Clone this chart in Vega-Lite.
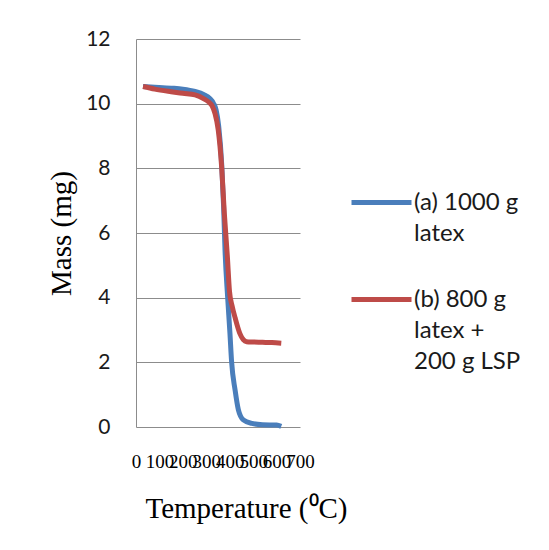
{
  "$schema": "https://vega.github.io/schema/vega-lite/v6.json",
  "width": 164,
  "height": 388,
  "autosize": {"type": "none"},
  "padding": {"left": 136, "top": 39, "right": 249, "bottom": 123},
  "background": "white",
  "config": {
    "view": {"stroke": null},
    "style": {"guide-label": {"lineHeight": 31}}
  },
  "data": {
    "values": [
      {"T": 30, "mass": 10.53, "series": "(a) 1000 g latex"},
      {"T": 80, "mass": 10.51, "series": "(a) 1000 g latex"},
      {"T": 150, "mass": 10.48, "series": "(a) 1000 g latex"},
      {"T": 200, "mass": 10.45, "series": "(a) 1000 g latex"},
      {"T": 252, "mass": 10.38, "series": "(a) 1000 g latex"},
      {"T": 290, "mass": 10.28, "series": "(a) 1000 g latex"},
      {"T": 315, "mass": 10.16, "series": "(a) 1000 g latex"},
      {"T": 330, "mass": 10.02, "series": "(a) 1000 g latex"},
      {"T": 342, "mass": 9.8, "series": "(a) 1000 g latex"},
      {"T": 353, "mass": 9.3, "series": "(a) 1000 g latex"},
      {"T": 366, "mass": 8.1, "series": "(a) 1000 g latex"},
      {"T": 374, "mass": 6.8, "series": "(a) 1000 g latex"},
      {"T": 380, "mass": 5.47, "series": "(a) 1000 g latex"},
      {"T": 391, "mass": 4.03, "series": "(a) 1000 g latex"},
      {"T": 401, "mass": 2.9, "series": "(a) 1000 g latex"},
      {"T": 408, "mass": 2.02, "series": "(a) 1000 g latex"},
      {"T": 423, "mass": 1.14, "series": "(a) 1000 g latex"},
      {"T": 437, "mass": 0.53, "series": "(a) 1000 g latex"},
      {"T": 458, "mass": 0.22, "series": "(a) 1000 g latex"},
      {"T": 494, "mass": 0.11, "series": "(a) 1000 g latex"},
      {"T": 540, "mass": 0.07, "series": "(a) 1000 g latex"},
      {"T": 600, "mass": 0.06, "series": "(a) 1000 g latex"},
      {"T": 620, "mass": 0.02, "series": "(a) 1000 g latex"},
      {"T": 30, "mass": 10.53, "series": "(b) 800 g latex + 200 g LSP"},
      {"T": 80, "mass": 10.45, "series": "(b) 800 g latex + 200 g LSP"},
      {"T": 150, "mass": 10.37, "series": "(b) 800 g latex + 200 g LSP"},
      {"T": 200, "mass": 10.32, "series": "(b) 800 g latex + 200 g LSP"},
      {"T": 252, "mass": 10.27, "series": "(b) 800 g latex + 200 g LSP"},
      {"T": 290, "mass": 10.15, "series": "(b) 800 g latex + 200 g LSP"},
      {"T": 309, "mass": 10.06, "series": "(b) 800 g latex + 200 g LSP"},
      {"T": 325, "mass": 9.93, "series": "(b) 800 g latex + 200 g LSP"},
      {"T": 337, "mass": 9.7, "series": "(b) 800 g latex + 200 g LSP"},
      {"T": 351, "mass": 9.19, "series": "(b) 800 g latex + 200 g LSP"},
      {"T": 366, "mass": 8.0, "series": "(b) 800 g latex + 200 g LSP"},
      {"T": 377, "mass": 6.61, "series": "(b) 800 g latex + 200 g LSP"},
      {"T": 390, "mass": 5.27, "series": "(b) 800 g latex + 200 g LSP"},
      {"T": 399, "mass": 4.2, "series": "(b) 800 g latex + 200 g LSP"},
      {"T": 410, "mass": 3.75, "series": "(b) 800 g latex + 200 g LSP"},
      {"T": 423, "mass": 3.38, "series": "(b) 800 g latex + 200 g LSP"},
      {"T": 444, "mass": 2.88, "series": "(b) 800 g latex + 200 g LSP"},
      {"T": 458, "mass": 2.7, "series": "(b) 800 g latex + 200 g LSP"},
      {"T": 472, "mass": 2.64, "series": "(b) 800 g latex + 200 g LSP"},
      {"T": 500, "mass": 2.63, "series": "(b) 800 g latex + 200 g LSP"},
      {"T": 540, "mass": 2.62, "series": "(b) 800 g latex + 200 g LSP"},
      {"T": 580, "mass": 2.61, "series": "(b) 800 g latex + 200 g LSP"},
      {"T": 620, "mass": 2.59, "series": "(b) 800 g latex + 200 g LSP"}
    ]
  },
  "mark": {"type": "line", "strokeWidth": 5, "interpolate": "monotone", "clip": false},
  "encoding": {
    "x": {
      "field": "T",
      "type": "quantitative",
      "scale": {"domain": [0, 700], "nice": false},
      "axis": {
        "values": [0, 100, 200, 300, 400, 500, 600, 700],
        "grid": false,
        "domain": false,
        "ticks": false,
        "labelFont": "Liberation Serif",
        "labelFontSize": 19,
        "labelColor": "#000000",
        "labelOverlap": false,
        "labelFlush": false,
        "labelBound": false,
        "labelPadding": 25,
        "title": "Temperature (⁰C)",
        "titleFont": "Liberation Serif",
        "titleFontSize": 29,
        "titleFontWeight": "normal",
        "titleColor": "#000000",
        "titleX": 110,
        "titleY": 90,
        "titleAlign": "center",
        "titleBaseline": "alphabetic"
      }
    },
    "y": {
      "field": "mass",
      "type": "quantitative",
      "scale": {"domain": [0, 12], "nice": false},
      "axis": {
        "values": [0, 2, 4, 6, 8, 10, 12],
        "grid": true,
        "gridColor": "#8c8c8c",
        "gridWidth": 1,
        "gridOpacity": 1,
        "domain": true,
        "domainColor": "#8c8c8c",
        "ticks": false,
        "labelFont": "Lato",
        "labelFontSize": 21,
        "labelColor": "#1a1a1a",
        "labelPadding": 26,
        "title": "Mass (mg)",
        "titleFont": "Liberation Serif",
        "titleFontSize": 29,
        "titleFontWeight": "normal",
        "titleColor": "#000000",
        "titleX": -66,
        "titleY": 194,
        "titleAlign": "center",
        "titleBaseline": "alphabetic"
      }
    },
    "color": {
      "field": "series",
      "type": "nominal",
      "scale": {
        "domain": ["(a) 1000 g latex", "(b) 800 g latex + 200 g LSP"],
        "range": ["#4a7ebb", "#be4b48"]
      },
      "legend": {
        "title": null,
        "orient": "none",
        "legendX": 213,
        "legendY": 131,
        "symbolType": "stroke",
        "symbolSize": 3600,
        "symbolStrokeWidth": 5,
        "labelFont": "Lato",
        "labelFontSize": 24,
        "labelColor": "#1a1a1a",
        "labelOffset": 0,
        "labelLimit": 200,
        "labelBaseline": "middle",
        "rowPadding": 21,
        "labelExpr": "datum.label == '(a) 1000 g latex' ? ['(a) 1000 g', 'latex'] : ['(b) 800 g', 'latex +', '200 g LSP']"
      }
    }
  }
}
